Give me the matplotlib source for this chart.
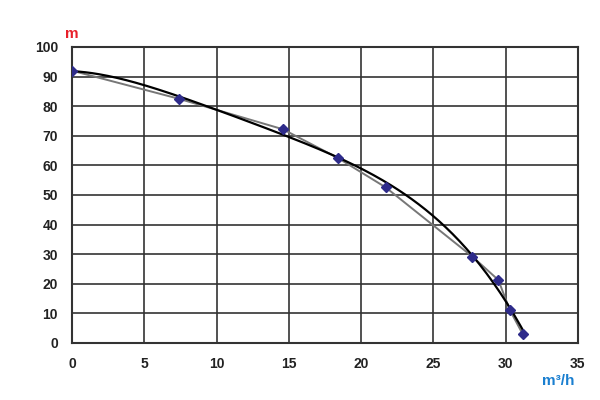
import numpy as np
import matplotlib.pyplot as plt

plt.rcParams['font.family'] = ['Liberation Sans', 'DejaVu Sans']

# pump curve points
flow = [0, 7.4, 14.6, 18.4, 21.7, 27.7, 29.5, 30.3, 31.2]
head = [92, 82.5, 72.2, 62.5, 52.6, 29.2, 21.3, 11.1, 2.9]

xticks = [0, 5, 10, 15, 20, 25, 30, 35]
yticks = [0, 10, 20, 30, 40, 50, 60, 70, 80, 90, 100]

fig = plt.figure(figsize=(6, 4), dpi=100)
ax = fig.add_axes([0.12, 0.1425, 0.843, 0.74])

# trend line through the points
coef = np.polyfit(flow, head, 4)
xs = np.linspace(flow[0], flow[-1], 200)
ax.plot(xs, np.polyval(coef, xs), color='black', linewidth=1.6, zorder=3)

ax.plot(flow, head, color='#777777', linewidth=1.4, zorder=2)
ax.plot(flow, head, linestyle='none', marker='D', markersize=5.5,
        color='#2e2b8a', zorder=4)

ax.set_xlim(0, 35)
ax.set_ylim(0, 100)
ax.set_xticks(xticks)
ax.set_yticks(yticks)
ax.grid(True, color='#333333', linewidth=1.2)
for s in ax.spines.values():
    s.set_color('#333333')
    s.set_linewidth(1.5)
ax.tick_params(length=0, labelsize=10, colors='#222222', pad=10)
for lab in ax.get_xticklabels() + ax.get_yticklabels():
    lab.set_fontweight('bold')

fig.text(0.12, 0.915, 'm', color='#e8202a', fontsize=11, fontweight='bold',
         ha='center', va='center')
fig.text(0.93, 0.048, 'm³/h', color='#1a7fd0', fontsize=11, fontweight='bold',
         ha='center', va='center')

fig.savefig('out.png', dpi=100)
